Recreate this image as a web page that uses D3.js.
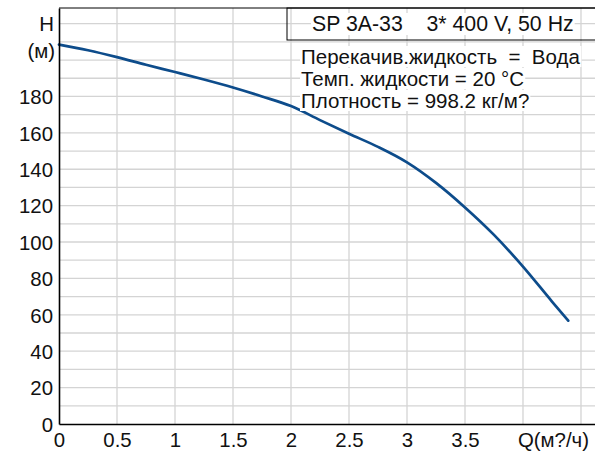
<!DOCTYPE html>
<html>
<head>
<meta charset="utf-8">
<script src="https://cdn.jsdelivr.net/npm/d3@7"></script>
<style>
  body { margin: 0; background: #fff; }
  text { font-family: "Liberation Sans", Arial, sans-serif; fill: #111; }
</style>
</head>
<body>
<svg id="chart" width="595" height="452"></svg>
<script>
// pump curve
const flowQ = [0, 0.25, 0.5, 0.75, 1, 1.25, 1.5, 1.75, 2, 2.25, 2.5, 2.75, 3, 3.25, 3.5, 3.75, 4, 4.25, 4.39];
const headH = [208.5, 205.4, 201.6, 197.4, 193.4, 189.3, 184.9, 180, 174.7, 167, 159.5, 152.3, 143.8, 132.5, 119, 103.9, 86.5, 67.3, 56.8];
const xTickVals = [0, 0.5, 1, 1.5, 2, 2.5, 3, 3.5];
const yTickVals = [0, 20, 40, 60, 80, 100, 120, 140, 160, 180];
const xGridVals = [0.5, 1, 1.5, 2, 2.5, 3, 3.5, 4, 4.5];
const yGridVals = d3.range(10, 230, 10);
const titleText = "SP 3A-33    3* 400 V, 50 Hz";
const infoLines = ["Перекачив.жидкость  =  Вода", "Темп. жидкости = 20 °C", "Плотность = 998.2 кг/м?"];

const svg = d3.select("svg#chart");
const plotL = 59, plotR = 597, plotT = 8, plotB = 424;

const x = d3.scaleLinear().domain([0, 4.638]).range([plotL, plotR]);
const y = d3.scaleLinear().domain([0, 228.6]).range([plotB, plotT]);

//grid
svg.append("g").selectAll("line").data(xGridVals).join("line")
  .attr("x1", d => x(d)).attr("x2", d => x(d)).attr("y1", plotT).attr("y2", plotB)
  .attr("stroke", "#d4d4d4").attr("stroke-width", 1.3);
svg.append("g").selectAll("line").data(yGridVals).join("line")
  .attr("x1", plotL).attr("x2", plotR).attr("y1", d => y(d)).attr("y2", d => y(d))
  .attr("stroke", "#d4d4d4").attr("stroke-width", 1.3);

//frame
svg.append("line").attr("x1", plotL).attr("x2", plotR).attr("y1", plotT).attr("y2", plotT).attr("stroke", "#000").attr("stroke-width", 1);

//curve
const line = d3.line().x(d => x(d[0])).y(d => y(d[1])).curve(d3.curveMonotoneX);
svg.append("path").datum(d3.zip(flowQ, headH))
  .attr("d", line).attr("fill", "none")
  .attr("stroke", "#0d4c8b").attr("stroke-width", 2.7).attr("stroke-linecap", "round");

//axes
const yAxis = svg.append("g").attr("transform", "translate(" + plotL + ",0)")
  .call(d3.axisLeft(y).tickValues(yTickVals).tickSize(0).tickPadding(6));
const xAxis = svg.append("g").attr("transform", "translate(0," + plotB + ")")
  .call(d3.axisBottom(x).tickValues(xTickVals).tickSize(0).tickPadding(5).tickFormat(d3.format("")));
[yAxis, xAxis].forEach(a => {
  a.select(".domain").attr("stroke", "#000").attr("stroke-width", 1.6);
  a.selectAll("text").attr("font-family", "Liberation Sans, Arial, sans-serif").attr("font-size", 20.4).attr("fill", "#111");
});
yAxis.selectAll("text").attr("dy", "0.36em");
xAxis.selectAll("text").attr("dy", "0.88em");

svg.append("text").attr("x", 54).attr("y", y(220)).attr("dy", "0.36em").attr("text-anchor", "end").attr("font-size", 20.4).text("H");
svg.append("text").attr("x", 55).attr("y", y(205)).attr("dy", "0.36em").attr("text-anchor", "end").attr("font-size", 20.4).text("(м)");
svg.append("text").attr("x", 589).attr("y", plotB + 5).attr("dy", "0.88em").attr("text-anchor", "end").attr("font-size", 20.4).text("Q(м?/ч)");

//legend box
function textWithBg(g, tx, ty, str, size) {
  const t = g.append("text").attr("x", tx).attr("y", ty).attr("font-size", size).style("white-space", "pre").text(str);
  const b = t.node().getBBox();
  g.insert("rect", "text").attr("x", b.x - 1).attr("y", b.y + 1).attr("width", b.width + 2).attr("height", b.height - 2).attr("fill", "#fff");
}
const legend = svg.append("g");
legend.append("rect").attr("x", 287).attr("y", plotT).attr("width", 320).attr("height", 32)
  .attr("fill", "none").attr("stroke", "#000").attr("stroke-width", 1);
textWithBg(legend, 312, 31, titleText, 21.3);
infoLines.forEach((s, i) => textWithBg(legend.append("g"), 301, 64 + i * 22, s, 20.5));
</script>
</body>
</html>
